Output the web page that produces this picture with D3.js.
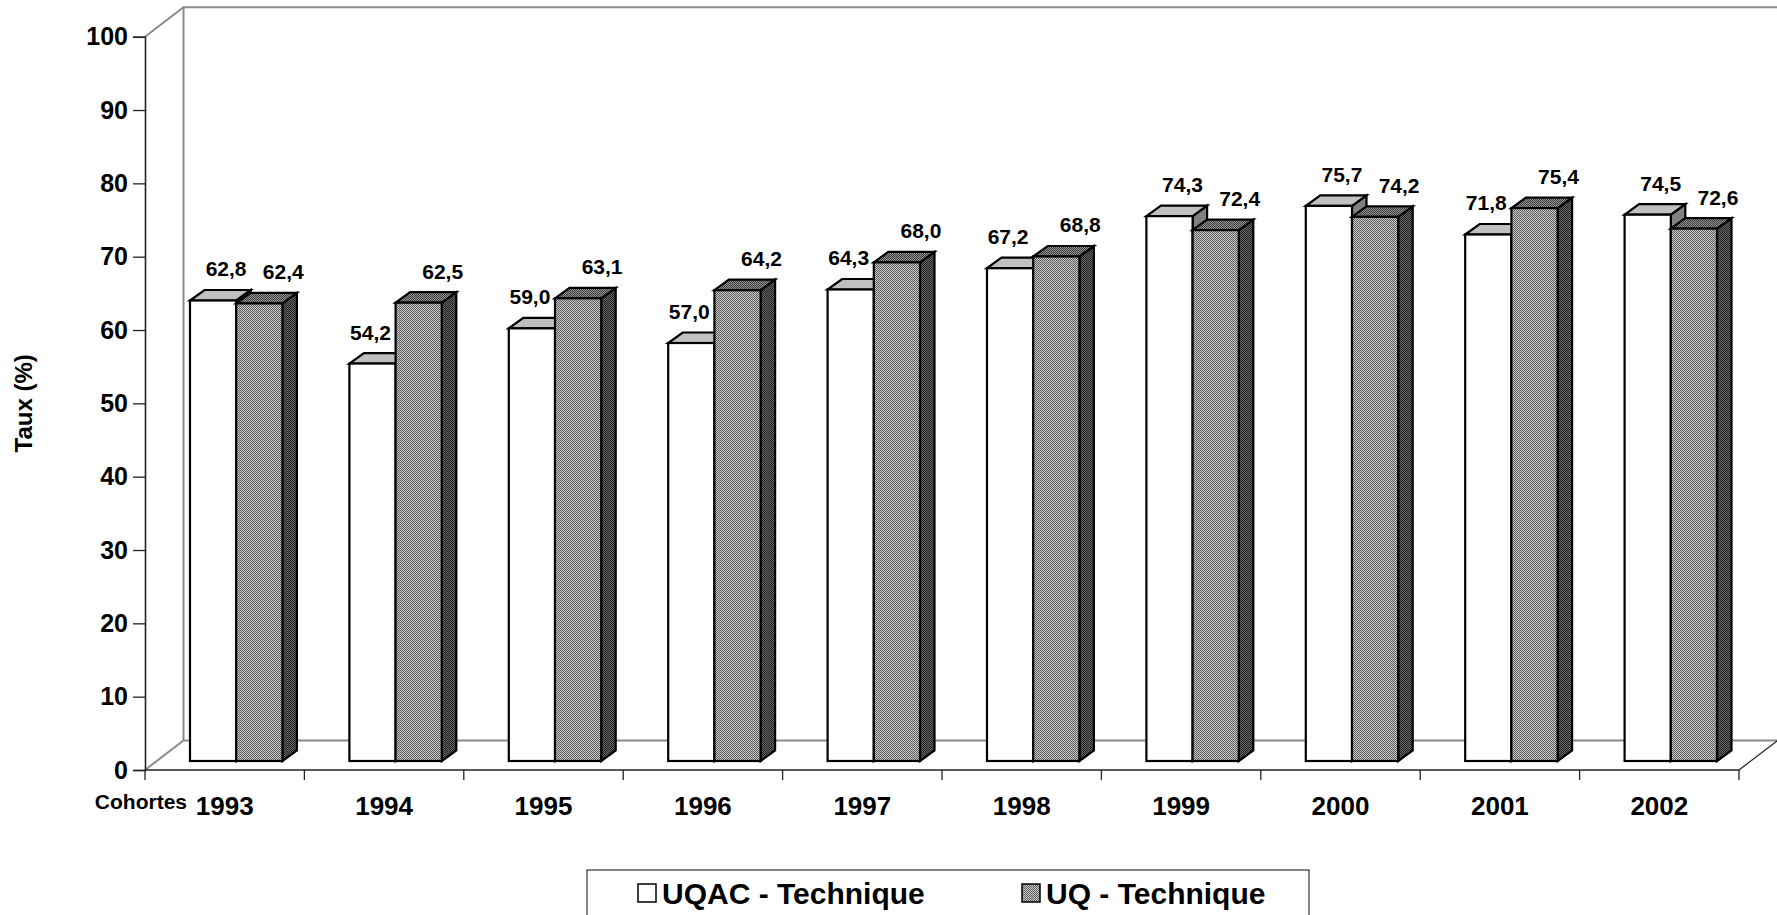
<!DOCTYPE html>
<html>
<head>
<meta charset="utf-8">
<script src="https://cdn.jsdelivr.net/npm/d3@7"></script>
<style>
  html, body { margin: 0; padding: 0; background: #fff; }
  svg { display: block; font-family: "Liberation Sans", Arial, sans-serif; font-weight: bold; }
</style>
</head>
<body>
<script>
// ---- data ----
const categories = ["1993","1994","1995","1996","1997","1998","1999","2000","2001","2002"];
const uqacValues = [62.8, 54.2, 59.0, 57.0, 64.3, 67.2, 74.3, 75.7, 71.8, 74.5];
const uqValues   = [62.4, 62.5, 63.1, 64.2, 68.0, 68.8, 72.4, 74.2, 75.4, 72.6];
const yTicks = [0, 10, 20, 30, 40, 50, 60, 70, 80, 90, 100];
const seriesNames = ["UQAC - Technique", "UQ - Technique"];
const yTitle = "Taux (%)";
const xTitle = "Cohortes";

(function () {
// ---- layout ----
const W = 1777, H = 915;
const plotL = 145, plotR = 1739, plotB = 770, plotT = 36.7;
const WX = 38.5, WY = -29.5;   // wall depth
const BX = 11.5, BY = -9;      // bar front offset in depth
const DX = 14.5, DY = -10.5;   // bar depth

const svg = d3.select("body").append("svg").attr("width", W).attr("height", H);
const defs = svg.append("defs");
function checker(id, a, b) {
  const p = defs.append("pattern").attr("id", id).attr("patternUnits", "userSpaceOnUse")
    .attr("width", 2).attr("height", 2);
  p.append("rect").attr("width", 2).attr("height", 2).attr("fill", b);
  p.append("rect").attr("width", 1).attr("height", 1).attr("fill", a);
  p.append("rect").attr("x", 1).attr("y", 1).attr("width", 1).attr("height", 1).attr("fill", a);
}
checker("pFront", "#5e5e5e", "#c8c8c8");
checker("pTop", "#3a3a3a", "#969696");
checker("pSide", "#222222", "#666666");

const x = d3.scaleBand().domain(categories).range([plotL, plotR]).paddingInner(0).paddingOuter(0);
const xs = d3.scaleBand().domain([0, 1]).range([0, x.bandwidth()]).paddingInner(0).paddingOuter(0.725);
const y = d3.scaleLinear().domain([0, 100]).range([plotB, plotT]);

// ---- walls ----
const wallColor = "#8a8a8a";
const g = svg.append("g");
g.append("path")
  .attr("d", `M${plotL + WX},${y(0) + WY} L${plotL + WX},${y(100) + WY} L${plotR + WX},${y(100) + WY}`)
  .attr("fill", "none").attr("stroke", wallColor).attr("stroke-width", 2);
g.append("line").attr("x1", plotL + WX).attr("x2", plotR + WX).attr("y1", y(0) + WY).attr("y2", y(0) + WY)
  .attr("stroke", wallColor).attr("stroke-width", 2);
g.append("line").attr("x1", plotL).attr("y1", y(100)).attr("x2", plotL + WX).attr("y2", y(100) + WY)
  .attr("stroke", wallColor).attr("stroke-width", 2);
g.append("line").attr("x1", plotL).attr("y1", y(0)).attr("x2", plotL + WX).attr("y2", y(0) + WY)
  .attr("stroke", wallColor).attr("stroke-width", 2);
g.append("line").attr("x1", plotR).attr("y1", y(0)).attr("x2", plotR + WX).attr("y2", y(0) + WY)
  .attr("stroke", "#222").attr("stroke-width", 1.2);

// ---- y axis ----
const yAxis = d3.axisLeft(y).tickValues(yTicks).tickSize(12).tickPadding(5).tickFormat(d3.format("d"));
const ya = svg.append("g").attr("transform", `translate(${plotL},0)`).call(yAxis);
ya.select(".domain").attr("stroke", "#222").attr("stroke-width", 1.6);
ya.selectAll(".tick line").attr("stroke", "#222").attr("stroke-width", 1.3);
ya.selectAll(".tick text").attr("font-size", 25).attr("font-weight", "bold")
  .attr("font-family", '"Liberation Sans", Arial, sans-serif').attr("fill", "#000");

// ---- x axis ----
const xa = svg.append("g").attr("transform", `translate(0,${plotB})`);
xa.append("line").attr("x1", plotL).attr("x2", plotR).attr("y1", 0).attr("y2", 0)
  .attr("stroke", "#222").attr("stroke-width", 1.6);
const bounds = categories.map(c => x(c)).concat([plotR]);
xa.selectAll("line.tk").data(bounds).enter().append("line").attr("class", "tk")
  .attr("x1", d => d).attr("x2", d => d).attr("y1", 0).attr("y2", 10)
  .attr("stroke", "#222").attr("stroke-width", 1.3);
xa.selectAll("text.cat").data(categories).enter().append("text").attr("class", "cat")
  .attr("x", d => x(d) + x.bandwidth() / 2).attr("y", 45)
  .attr("text-anchor", "middle").attr("font-size", 26).text(d => d);
svg.append("text").attr("x", 187).attr("y", 809).attr("text-anchor", "end")
  .attr("font-size", 21).text(xTitle);
svg.append("text").attr("transform", `translate(32,${(plotT + plotB) / 2}) rotate(-90)`)
  .attr("text-anchor", "middle").attr("font-size", 24).text(yTitle);

// ---- bars ----
const series = [
  { vals: uqacValues, front: "#ffffff", topc: "#c0c0c0", side: "#808080" },
  { vals: uqValues, front: "url(#pFront)", topc: "url(#pTop)", side: "url(#pSide)" }
];
const barsG = svg.append("g");
categories.forEach((c, i) => {
  series.forEach((s, k) => {
    const v = s.vals[i];
    const x0 = x(c) + xs(k) + BX, x1 = x0 + xs.bandwidth();
    const yt = y(v) + BY, yb = y(0) + BY;
    const bg = barsG.append("g").attr("stroke", "#000").attr("stroke-width", 2.2).attr("stroke-linejoin", "miter");
    bg.append("path").attr("fill", s.side)
      .attr("d", `M${x1},${yt} L${x1 + DX},${yt + DY} L${x1 + DX},${yb + DY} L${x1},${yb} Z`);
    bg.append("path").attr("fill", s.topc)
      .attr("d", `M${x0},${yt} L${x1},${yt} L${x1 + DX},${yt + DY} L${x0 + DX},${yt + DY} Z`);
    bg.append("rect").attr("x", x0).attr("y", yt).attr("width", x1 - x0).attr("height", yb - yt)
      .attr("fill", s.front);
  });
});

// ---- labels ----
const fmt = v => d3.format(".1f")(v).replace(".", ",");
const lab = svg.append("g").attr("font-size", 21).attr("text-anchor", "middle");
categories.forEach((c, i) => {
  series.forEach((s, k) => {
    const v = s.vals[i];
    const cx = x(c) + xs(k) + BX + xs.bandwidth() / 2;
    let off;
    if (k === 0) off = uqacValues[i] > uqValues[i] ? 13 : -2;
    else off = 24;
    lab.append("text").attr("x", cx + off).attr("y", y(v) + BY - 24).text(fmt(v));
  });
});

// ---- legend ----
const lg = svg.append("g");
lg.append("rect").attr("x", 587).attr("y", 870).attr("width", 722).attr("height", 70)
  .attr("fill", "#fff").attr("stroke", "#333").attr("stroke-width", 1.2);
const legX = [638, 1022];
seriesNames.forEach((n, k) => {
  lg.append("rect").attr("x", legX[k]).attr("y", 884).attr("width", 18).attr("height", 18)
    .attr("fill", series[k].front).attr("stroke", "#000").attr("stroke-width", 1.5);
  lg.append("text").attr("x", legX[k] + 24).attr("y", 904).attr("font-size", 30).text(n);
});
})();
</script>
</body>
</html>
